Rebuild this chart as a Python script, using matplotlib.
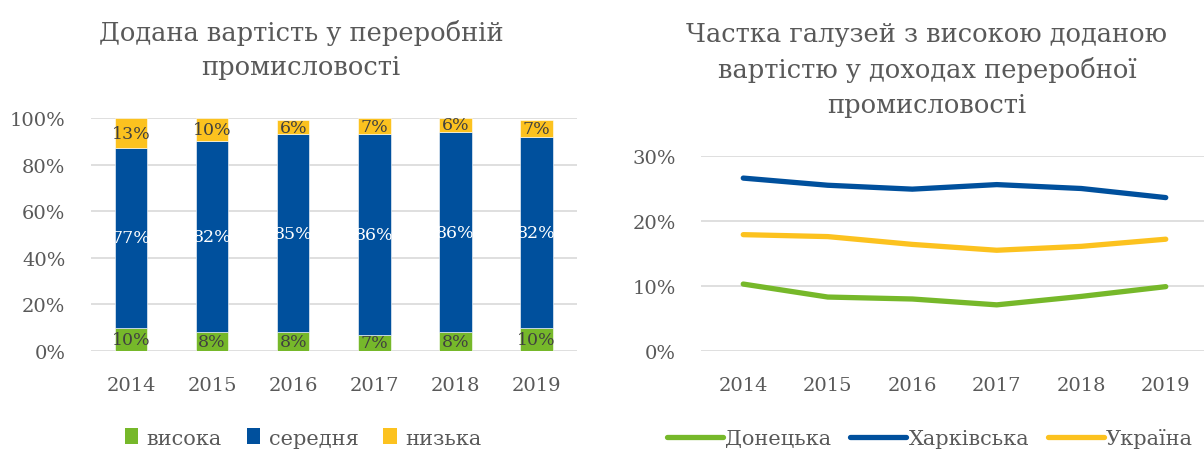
import matplotlib
matplotlib.use("Agg")
import matplotlib.pyplot as plt
from matplotlib.ticker import FuncFormatter
from matplotlib.lines import Line2D
from matplotlib.patches import Patch

plt.rcParams['font.family'] = ['DejaVu Serif']

years = ['2014', '2015', '2016', '2017', '2018', '2019']
high = [10, 8, 8, 7, 8, 10]
medium = [77, 82, 85, 86, 86, 82]
low = [13, 10, 6, 7, 6, 7]
bar_names = ['висока', 'середня', 'низька']

donetsk = [10.3, 8.3, 8.0, 7.1, 8.4, 9.9]
kharkiv = [26.6, 25.5, 24.9, 25.6, 25.0, 23.6]
ukraine = [17.9, 17.6, 16.4, 15.5, 16.1, 17.2]
line_names = ['Донецька', 'Харківська', 'Україна']

title_left = 'Додана вартість у переробній\nпромисловості'
title_right = 'Частка галузей з високою доданою\nвартістю у доходах переробної\nпромисловості'

GREEN = '#76B82A'
BLUE = '#00509D'
YELLOW = '#FCC21F'
TXT = '#595959'
GRID = '#D9D9D9'

fig = plt.figure(figsize=(12.04, 4.52), dpi=100)
H = 452
W = 1204
ax1 = fig.add_axes([90.5 / W, 1 - 352 / H, (577 - 90.5) / W, (352 - 119) / H])
ax2 = fig.add_axes([701 / W, 1 - 352 / H, (1208 - 701) / W, (352 - 157) / H])

x = list(range(len(years)))
bw = 0.4
b1 = ax1.bar(x, high, bw, color=GREEN, edgecolor='white', linewidth=0.4, zorder=3)
b2 = ax1.bar(x, medium, bw, bottom=high, color=BLUE, edgecolor='white', linewidth=0.4, zorder=3)
bot3 = [h + m for h, m in zip(high, medium)]
b3 = ax1.bar(x, low, bw, bottom=bot3, color=YELLOW, edgecolor='white', linewidth=0.4, zorder=3)

for bars, vals, bottoms, col in [(b1, high, [0] * 6, '#404040'),
                                 (b2, medium, high, 'white'),
                                 (b3, low, bot3, '#404040')]:
    for xi, v, b in zip(x, vals, bottoms):
        ax1.text(xi, b + v / 2, f'{v}%', ha='center', va='center',
                 fontsize=12.5, color=col, zorder=4)

ax1.set_xlim(-0.5, 5.5)
ax1.set_ylim(0, 100)
ax1.set_yticks([0, 20, 40, 60, 80, 100])
ax1.yaxis.set_major_formatter(FuncFormatter(lambda v, p: f'{v:.0f}%'))
ax1.set_xticks(x)
ax1.set_xticklabels(years)

ax2.plot(x, donetsk, color=GREEN, lw=3.8, solid_capstyle='round', zorder=3)
ax2.plot(x, kharkiv, color=BLUE, lw=3.8, solid_capstyle='round', zorder=3)
ax2.plot(x, ukraine, color=YELLOW, lw=3.8, solid_capstyle='round', zorder=3)
ax2.set_xlim(-0.5, 5.5)
ax2.set_ylim(0, 30)
ax2.set_yticks([0, 10, 20, 30])
ax2.yaxis.set_major_formatter(FuncFormatter(lambda v, p: f'{v:.0f}%'))
ax2.set_xticks(x)
ax2.set_xticklabels(years)

for ax in (ax1, ax2):
    for s in ax.spines.values():
        s.set_visible(False)
    ax.grid(axis='y', color=GRID, lw=1.2, zorder=0)
    ax.set_axisbelow(True)
    ax.tick_params(axis='both', length=0, labelsize=14, colors=TXT)
    ax.tick_params(axis='y', pad=18)
    ax.tick_params(axis='x', pad=18)

fig.text(301 / W, 1 - 50 / H, title_left, ha='center', va='center',
         fontsize=18.5, color=TXT, linespacing=1.5)
fig.text(927 / W, 1 - 70 / H, title_right, ha='center', va='center',
         fontsize=18.5, color=TXT, linespacing=1.5)

h1 = [Patch(facecolor=c) for c in (GREEN, BLUE, YELLOW)]
fig.legend(h1, bar_names, loc='center', bbox_to_anchor=(303 / W, 1 - 439 / H),
           ncol=3, frameon=False, fontsize=15, labelcolor=TXT,
           handlelength=0.65, handleheight=0.8, handletextpad=0.4,
           columnspacing=1.2, borderpad=0, borderaxespad=0)
h2 = [Line2D([], [], color=c, lw=3.8, solid_capstyle='round') for c in (GREEN, BLUE, YELLOW)]
fig.legend(h2, line_names, loc='center', bbox_to_anchor=(930 / W, 1 - 439 / H),
           ncol=3, frameon=False, fontsize=15, labelcolor=TXT,
           handlelength=2.7, handletextpad=0.1, columnspacing=0.9,
           borderpad=0, borderaxespad=0)

fig.savefig('out.png', dpi=100)
